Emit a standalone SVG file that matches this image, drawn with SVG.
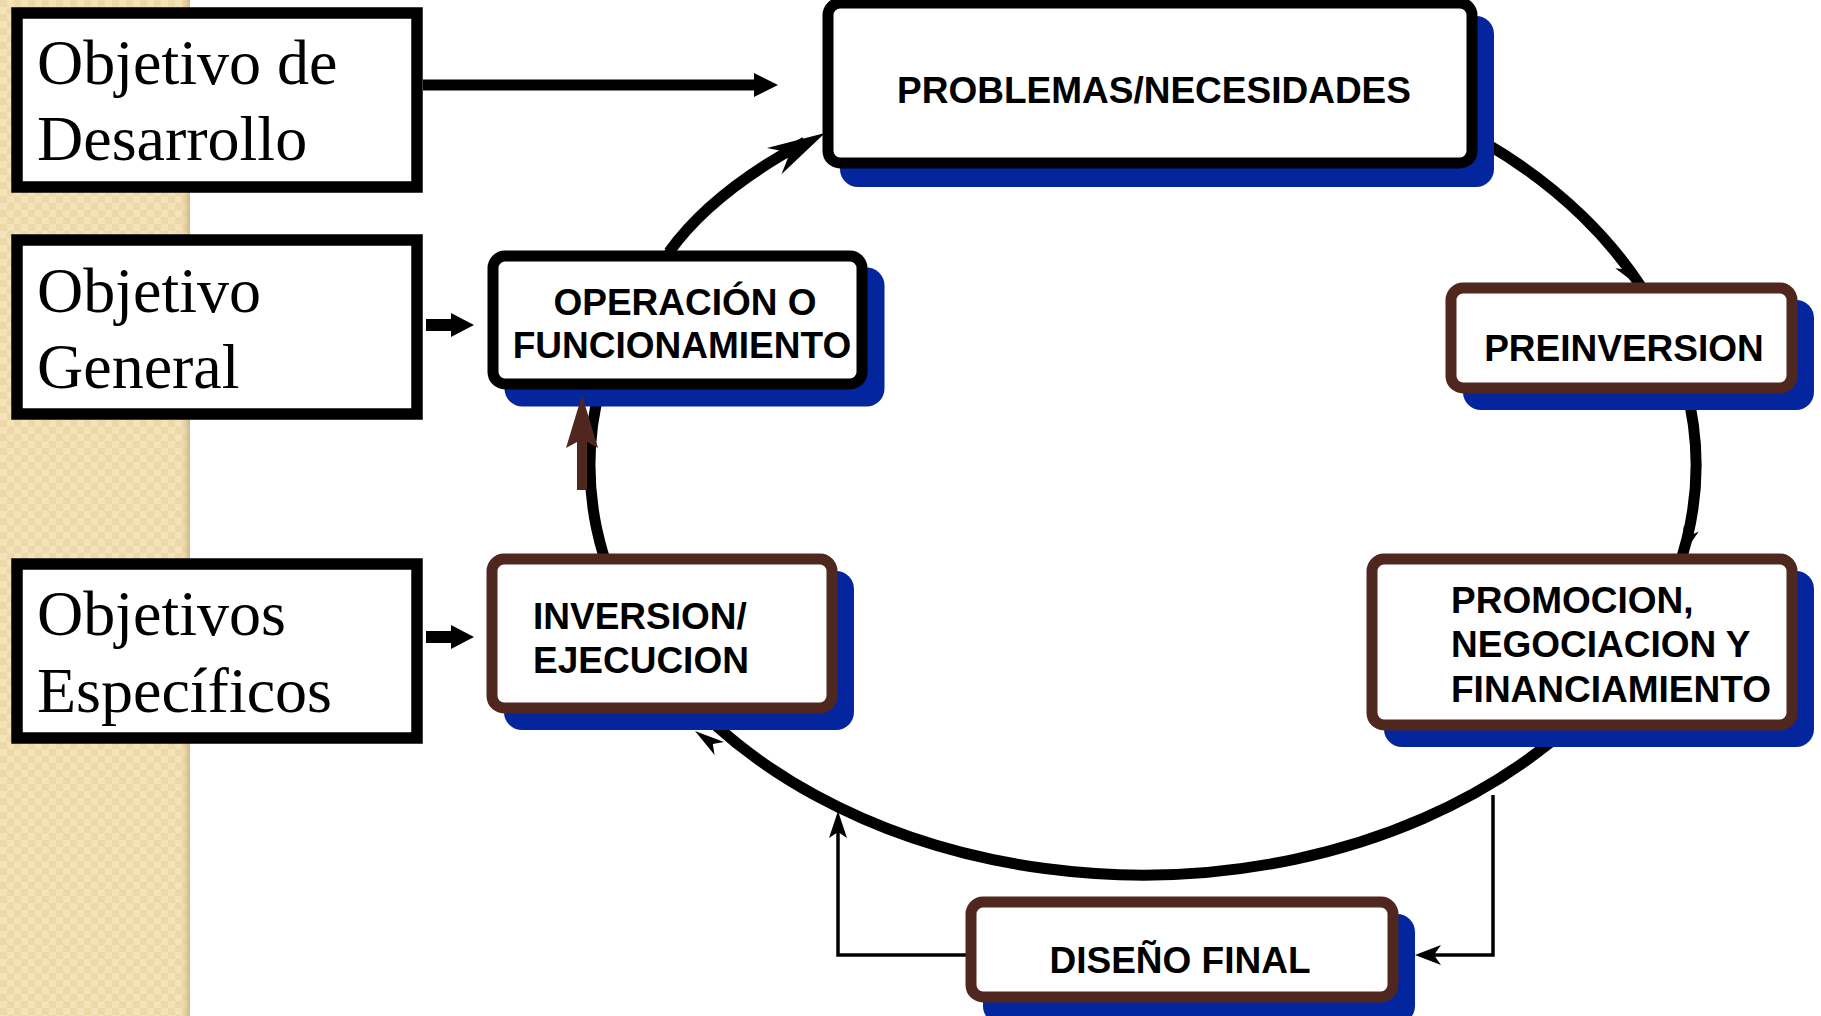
<svg xmlns="http://www.w3.org/2000/svg" width="1821" height="1016" viewBox="0 0 1821 1016">
<style>
.obj{fill:#fff;stroke:#000;stroke-width:11.5}
.objt{font-family:"Liberation Serif","Times New Roman",serif;font-size:64px;fill:#000}
.shadow{fill:#03259e}
.nb{fill:#fff;stroke:#000;stroke-width:11}
.nr{fill:#fff;stroke:#4f271f;stroke-width:11}
.nt{font-family:"Liberation Sans",Arial,sans-serif;font-size:37px;font-weight:bold;fill:#000}
.loop{fill:none;stroke:#000;stroke-width:11}
.thin{fill:none;stroke:#000;stroke-width:3.5}
.ah{fill:#000}
</style>
<defs>
<pattern id="chk" width="14" height="14" patternUnits="userSpaceOnUse">
<rect width="14" height="14" fill="#f4e3b9"/>
<rect width="7" height="7" fill="#ecd8a8"/>
<rect x="7" y="7" width="7" height="7" fill="#ecd8a8"/>
</pattern>
<linearGradient id="edge" x1="0" x2="1" y1="0" y2="0">
<stop offset="0" stop-color="#ecd8a8" stop-opacity="0"/>
<stop offset="1" stop-color="#cdb687"/>
</linearGradient>
</defs>
<rect width="1821" height="1016" fill="#fff"/>
<g id="strip">
<rect x="0" y="0" width="190" height="1016" fill="url(#chk)"/>
<rect x="180" y="0" width="10" height="1016" fill="url(#edge)"/>
</g>

<g id="connectors">
<path class="loop" d="M 844.2,120 A 553 410 0 1 1 672.1,250"/>
<path class="loop" d="M 669,252 Q 712,192 805,142"/>
<polygon class="ah" points="825,133 767,148 790,152.4 781.5,174.2"/>
<polygon class="ah" points="1640,287 1615.3,268.2 1626.5,269.6 1627.9,258.4"/>
<polygon class="ah" points="1681,557 1683.8,526.1 1688.5,536.3 1698.8,531.5"/>
<polygon class="ah" points="695,731 724,742 712.8,743.9 714.6,755"/>
<line x1="423" y1="85" x2="757" y2="85" stroke="#000" stroke-width="11"/>
<polygon class="ah" points="754,73 778,85 754,97"/>
<polygon class="ah" points="426,319 451,319 451,313 474,325 451,337 451,331 426,331"/>
<polygon class="ah" points="426,631 451,631 451,625 474,637 451,649 451,643 426,643"/>
<polyline class="thin" points="966,955 838,955 838,825"/>
<polygon class="ah" points="838,811 829,838 838,832 847,838"/>
<polyline class="thin" points="1493,795 1493,955 1425,955"/>
<polygon class="ah" points="1415,955 1441,945 1434,955 1441,965"/>
</g>

<g id="obj-desarrollo">
<rect class="obj" x="17" y="13" width="400" height="174"/>
<text class="objt" x="37" y="84">Objetivo de</text>
<text class="objt" x="37" y="160">Desarrollo</text>
</g>
<g id="obj-general">
<rect class="obj" x="17" y="240" width="400" height="174"/>
<text class="objt" x="37" y="312">Objetivo</text>
<text class="objt" x="37" y="388">General</text>
</g>
<g id="obj-especificos">
<rect class="obj" x="17" y="564" width="400" height="174"/>
<text class="objt" x="37" y="635">Objetivos</text>
<text class="objt" x="37" y="712">Específicos</text>
</g>

<g id="problemas">
<rect class="shadow" x="840" y="16" width="654" height="171" rx="18"/>
<rect class="nb" x="828" y="3" width="644" height="160" rx="12"/>
<text class="nt" x="1154" y="103" text-anchor="middle">PROBLEMAS/NECESIDADES</text>
</g>
<g id="operacion">
<rect class="shadow" x="504.5" y="267.5" width="380" height="139" rx="18"/>
<rect class="nb" x="493" y="256" width="369" height="128" rx="12"/>
<text class="nt" x="685" y="315" text-anchor="middle">OPERACIÓN O</text>
<text class="nt" x="682" y="358" text-anchor="middle">FUNCIONAMIENTO</text>
</g>
<g id="preinversion">
<rect class="shadow" x="1463" y="300" width="351" height="110" rx="18"/>
<rect class="nr" x="1451" y="288" width="341" height="100" rx="12"/>
<text class="nt" x="1624" y="361" text-anchor="middle">PREINVERSION</text>
</g>
<g id="promocion">
<rect class="shadow" x="1384" y="571" width="430" height="176" rx="18"/>
<rect class="nr" x="1372" y="559" width="420" height="166" rx="12"/>
<text class="nt" x="1451" y="613">PROMOCION,</text>
<text class="nt" x="1451" y="657">NEGOCIACION Y</text>
<text class="nt" x="1451" y="702">FINANCIAMIENTO</text>
</g>
<g id="inversion">
<rect class="shadow" x="504" y="571" width="350" height="159" rx="18"/>
<rect class="nr" x="492" y="559" width="340" height="149" rx="12"/>
<text class="nt" x="533" y="629">INVERSION/</text>
<text class="nt" x="533" y="673">EJECUCION</text>
</g>
<g id="diseno">
<rect class="shadow" x="983" y="914" width="432" height="110" rx="18"/>
<rect class="nr" x="971" y="902" width="422" height="95" rx="12"/>
<text class="nt" x="1180" y="973" text-anchor="middle">DISEÑO FINAL</text>
</g>

<g id="connector-overlay">
<polygon fill="#4f271f" points="582,395 598,448 587,442 587,490 577,490 577,442 566,448"/>
</g>
</svg>
